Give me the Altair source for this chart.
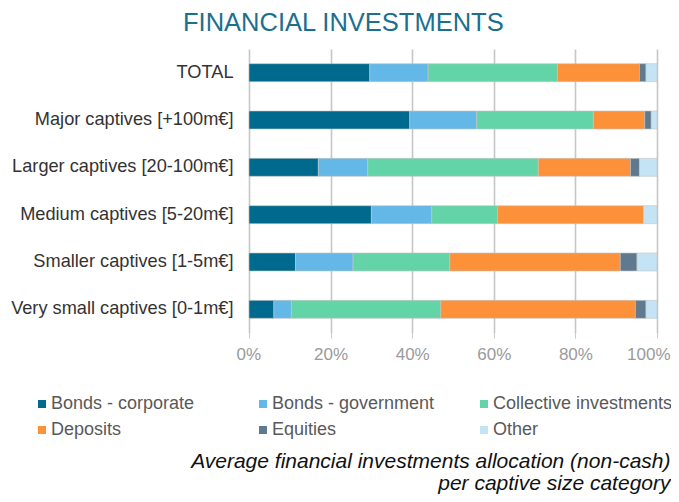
import altair as alt
import pandas as pd

categories = ["TOTAL", "Major captives [+100m€]", "Larger captives [20-100m€]",
              "Medium captives [5-20m€]", "Smaller captives [1-5m€]",
              "Very small captives [0-1m€]"]
series = ["Bonds - corporate", "Bonds - government", "Collective investments",
          "Deposits", "Equities", "Other"]
colors = ["#006a8e", "#63b8e8", "#63d4a7", "#fd9139", "#5f7a8e", "#c4e4f6"]

bonds_corporate = [29.6, 39.4, 17.0, 30.0, 11.4, 6.1]
bonds_government = [14.3, 16.4, 12.1, 14.8, 14.1, 4.3]
collective = [31.7, 28.6, 41.8, 16.1, 23.7, 36.6]
deposits = [20.1, 12.6, 22.6, 35.8, 41.8, 47.7]
equities = [1.6, 1.6, 2.2, 0.0, 4.1, 2.6]
other = [2.7, 1.4, 4.3, 3.3, 4.9, 2.7]

x_ticks = [0, 20, 40, 60, 80, 100]
subtitle = ["Average financial investments allocation (non-cash)",
            "per captive size category"]

rows = []
for si, (name, vals) in enumerate(zip(series, [bonds_corporate, bonds_government,
                                               collective, deposits, equities, other])):
    for c, v in zip(categories, vals):
        if v > 0:
            rows.append({"category": c, "series": name, "value": v, "idx": si})
df = pd.DataFrame(rows)

FONT = "Liberation Sans, Arial, sans-serif"

chart = alt.Chart(df).mark_bar(stroke="#c4c4c4", strokeWidth=0.6).encode(
    y=alt.Y("category:N", sort=categories,
            scale=alt.Scale(paddingInner=0.62, paddingOuter=0.31),
            axis=alt.Axis(title=None, ticks=False, domain=False, labelFontSize=18.2,
                          labelColor="#333333", labelPadding=16, labelFont=FONT,
                          labelLimit=300)),
    x=alt.X("value:Q", stack="zero", scale=alt.Scale(domain=[0, 100], nice=False),
            axis=alt.Axis(values=x_ticks, labelExpr="datum.value + '%'",
                          labelFontSize=17, labelColor="#9a9a9a", labelFont=FONT,
                          labelFlush=True, labelFlushOffset=13,
                          labelPadding=8, tickSize=5,
                          tickColor="#c8c8c8", domain=False, grid=True,
                          gridColor="#c6c6c6", gridWidth=1.6,
                          title=subtitle, titleFont=FONT, titleFontSize=21,
                          titleFontStyle="italic", titleFontWeight="normal",
                          titleColor="#111111", titleAlign="right",
                          titleAnchor="end", titleX=421, titleY=134,
                          titleBaseline="alphabetic", titleLineHeight=22)),
    color=alt.Color("series:N", sort=series,
                    scale=alt.Scale(domain=series, range=colors),
                    legend=alt.Legend(title=None, orient="none", legendX=-216,
                                      legendY=346, columns=3, direction="horizontal",
                                      gridAlign="all",
                                      symbolType="square", symbolSize=64,
                                      symbolStrokeWidth=0, labelFontSize=18,
                                      labelColor="#595959", labelFont=FONT,
                                      symbolOffset=0, labelOffset=0,
                                      columnPadding=23, rowPadding=8, padding=0,
                                      labelLimit=400)),
    order=alt.Order("idx:Q"),
).properties(
    width=408, height=284,
    autosize=alt.AutoSizeParams(type="none"),
    padding={"left": 241, "top": 41, "right": 14, "bottom": 161},
    title=alt.TitleParams("FINANCIAL INVESTMENTS", font=FONT, fontSize=25.5,
                          fontWeight="normal", color="#1b6f8f", anchor="start",
                          frame="group", dx=-66, offset=13),
).configure_view(stroke=None)

chart.save("out.html", embed_options={"renderer": "svg", "actions": False})
